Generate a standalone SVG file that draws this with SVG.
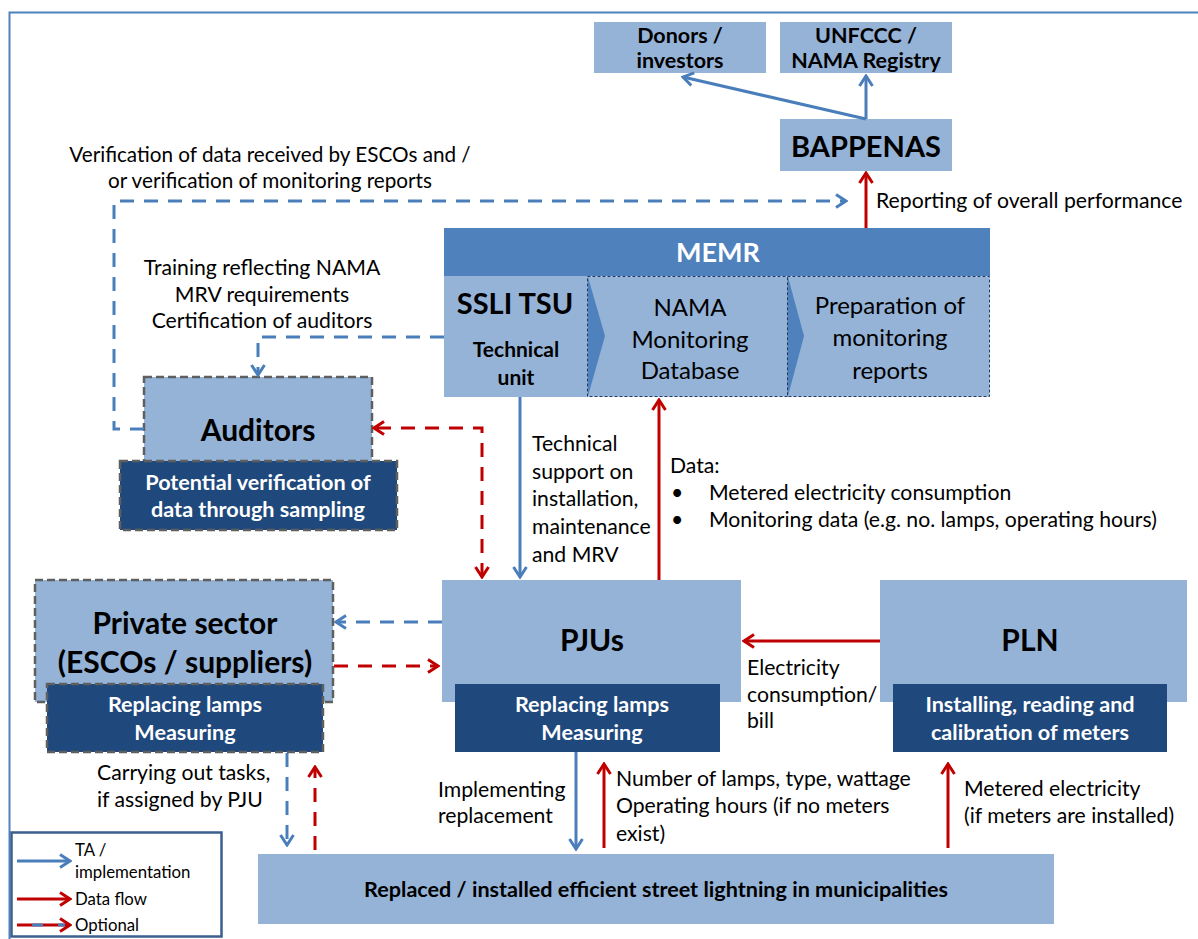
<svg xmlns="http://www.w3.org/2000/svg" width="1198" height="939" viewBox="0 0 1198 939">
  <defs>
    <style>
      text { font-family: "Lato", "Liberation Sans", sans-serif; fill: #000; }
      .lbl { font-size: 21.2px; }
      .ttl { font-size: 30px; font-weight: bold; text-anchor: middle; }
      .sub { font-size: 21.6px; font-weight: bold; text-anchor: middle; fill: #fff; }
      .top { font-size: 21.5px; font-weight: bold; text-anchor: middle; }
      .mid { text-anchor: middle; }
      .node { fill: #95b3d7; }
      .dark { fill: #1f497d; }
      .opt { stroke: #5f5f5f; stroke-width: 2.5; stroke-dasharray: 8 4; }
      .step { fill: #95b3d7; stroke: #1f3864; stroke-width: 1; stroke-dasharray: 3 2; }
      .blue { fill: none; stroke: #4a7ebb; stroke-width: 3; }
      .red { fill: none; stroke: #c00000; stroke-width: 3; }
      .dash { stroke-dasharray: 14 10; }
      .leg { font-size: 16.8px; }
    </style>
    <marker id="ab" viewBox="0 0 14 16" refX="12" refY="8" markerWidth="14" markerHeight="16" orient="auto-start-reverse" markerUnits="userSpaceOnUse">
      <path d="M2,1.5 L12,8 L2,14.5" fill="none" stroke="#4a7ebb" stroke-width="3"/>
    </marker>
    <marker id="ar" viewBox="0 0 14 16" refX="12" refY="8" markerWidth="14" markerHeight="16" orient="auto-start-reverse" markerUnits="userSpaceOnUse">
      <path d="M2,1.5 L12,8 L2,14.5" fill="none" stroke="#c00000" stroke-width="3"/>
    </marker>
  </defs>

  <!-- outer frame -->
  <rect x="9.5" y="12.5" width="1200" height="940" fill="#fff" stroke="#4f81bd" stroke-width="2"/>

  <!-- top-level bodies -->
  <g id="donors">
    <rect class="node" x="594" y="22" width="172" height="51"/>
    <text class="top" x="680" y="43">Donors /</text>
    <text class="top" x="680" y="68">investors</text>
  </g>
  <g id="unfccc">
    <rect class="node" x="780" y="22" width="172" height="51"/>
    <text class="top" x="866" y="43">UNFCCC /</text>
    <text class="top" x="866" y="68">NAMA Registry</text>
  </g>
  <g id="bappenas">
    <rect class="node" x="780" y="119" width="172" height="52"/>
    <text class="ttl" x="866" y="157" font-size="29" style="font-size:29px">BAPPENAS</text>
  </g>

  <!-- MEMR with its technical unit and process steps -->
  <g id="memr">
    <rect x="444" y="228" width="546" height="48" fill="#4f81bd"/>
    <text x="718" y="262" font-size="27" font-weight="bold" text-anchor="middle" style="fill:#fff">MEMR</text>
  </g>
  <g id="ssli-tsu">
    <rect class="node" x="444" y="276" width="144" height="121"/>
    <text class="ttl" x="515" y="314" style="font-size:29px">SSLI TSU</text>
    <text x="516" y="357" font-size="21" font-weight="bold" text-anchor="middle">Technical</text>
    <text x="516" y="385" font-size="21" font-weight="bold" text-anchor="middle">unit</text>
  </g>
  <g id="monitoring-db">
    <rect class="step" x="587.5" y="276.5" width="200" height="120"/>
    <polygon points="588,277 605,336 588,396" fill="#4f81bd"/>
    <text x="690" y="316" font-size="24" class="mid">NAMA</text>
    <text x="690" y="348" font-size="24" class="mid">Monitoring</text>
    <text x="690" y="379" font-size="24" class="mid">Database</text>
  </g>
  <g id="monitoring-reports">
    <rect class="step" x="787.5" y="276.5" width="202" height="120"/>
    <polygon points="788,277 804,336 788,396" fill="#4f81bd"/>
    <text x="890" y="314" font-size="24" class="mid">Preparation of</text>
    <text x="890" y="346" font-size="24" class="mid">monitoring</text>
    <text x="890" y="379" font-size="24" class="mid">reports</text>
  </g>

  <!-- auditors -->
  <g id="auditors">
    <rect class="node opt" x="144" y="377" width="228" height="87"/>
    <rect class="dark opt" x="120" y="461" width="277" height="69"/>
    <text class="ttl" x="258" y="441">Auditors</text>
    <text class="sub" x="258" y="490">Potential verification of</text>
    <text class="sub" x="258" y="517">data through sampling</text>
  </g>

  <!-- private sector -->
  <g id="private-sector">
    <rect class="node opt" x="35" y="580" width="298" height="122"/>
    <rect class="dark opt" x="47" y="684" width="276" height="68"/>
    <text class="ttl" x="185" y="634">Private sector</text>
    <text class="ttl" x="185" y="673">(ESCOs / suppliers)</text>
    <text class="sub" x="185" y="712">Replacing lamps</text>
    <text class="sub" x="185" y="740">Measuring</text>
  </g>

  <!-- PJUs -->
  <g id="pjus">
    <rect class="node" x="442" y="580" width="299" height="122"/>
    <rect class="dark" x="455" y="684" width="265" height="68"/>
    <text class="ttl" x="592" y="651">PJUs</text>
    <text class="sub" x="592" y="712">Replacing lamps</text>
    <text class="sub" x="592" y="740">Measuring</text>
  </g>

  <!-- PLN -->
  <g id="pln">
    <rect class="node" x="880" y="580" width="307" height="122"/>
    <rect class="dark" x="893" y="684" width="274" height="68"/>
    <text class="ttl" x="1030" y="651">PLN</text>
    <text class="sub" x="1030" y="712">Installing, reading and</text>
    <text class="sub" x="1030" y="740">calibration of meters</text>
  </g>

  <!-- street lighting -->
  <g id="street-lighting">
    <rect class="node" x="258" y="854" width="796" height="70"/>
    <text x="656" y="897" font-size="21.6" font-weight="bold" text-anchor="middle">Replaced / installed efficient street lightning in municipalities</text>
  </g>

  <!-- connectors -->
  <g id="connectors">
    <path class="blue" d="M866,119 V76" marker-end="url(#ab)"/>
    <path class="blue" d="M866,119 L683,77" marker-end="url(#ab)"/>
    <path class="red" d="M866,228 V173" marker-end="url(#ar)"/>
    <path class="blue dash" d="M144,429 H114 V201 H846" marker-end="url(#ab)"/>
    <path class="blue dash" d="M444,337 H258 V375" marker-end="url(#ab)"/>
    <path class="red dash" d="M482,577 V428 H374" marker-start="url(#ar)" marker-end="url(#ar)"/>
    <path class="blue" d="M520,397 V577" marker-end="url(#ab)"/>
    <path class="red" d="M659,580 V400" marker-end="url(#ar)"/>
    <path class="blue dash" d="M442,622 H336" marker-end="url(#ab)"/>
    <path class="red dash" d="M334,666 H438" marker-end="url(#ar)"/>
    <path class="red" d="M880,641 H744" marker-end="url(#ar)"/>
    <path class="blue" d="M576,752 V849" marker-end="url(#ab)"/>
    <path class="red" d="M604,848 V764" marker-end="url(#ar)"/>
    <path class="red" d="M948,848 V764" marker-end="url(#ar)"/>
    <path class="blue dash" d="M287,753 V845" marker-end="url(#ab)"/>
    <path class="red dash" d="M315,850 V767" marker-end="url(#ar)"/>
  </g>

  <!-- connector labels -->
  <g id="labels" class="lbl">
    <text x="270" y="162" class="mid" style="font-size:20.7px">Verification of data received by ESCOs and /</text>
    <text x="270" y="188" class="mid" style="font-size:20.7px">or verification of monitoring reports</text>
    <text x="876" y="208">Reporting of overall performance</text>
    <text x="262" y="275" class="mid">Training reflecting NAMA</text>
    <text x="262" y="302" class="mid">MRV requirements</text>
    <text x="262" y="328" class="mid">Certification of auditors</text>
    <text x="532" y="451">Technical</text>
    <text x="532" y="479">support on</text>
    <text x="532" y="506">installation,</text>
    <text x="532" y="534">maintenance</text>
    <text x="532" y="562">and MRV</text>
    <text x="670" y="473">Data:</text>
    <text x="671" y="500">•</text>
    <text x="709" y="500">Metered electricity consumption</text>
    <text x="671" y="527">•</text>
    <text x="709" y="527">Monitoring data (e.g. no. lamps, operating hours)</text>
    <text x="747" y="675">Electricity</text>
    <text x="747" y="702">consumption/</text>
    <text x="747" y="728">bill</text>
    <text x="97" y="780">Carrying out tasks,</text>
    <text x="97" y="807">if assigned by PJU</text>
    <text x="438" y="797">Implementing</text>
    <text x="438" y="823">replacement</text>
    <text x="616" y="786">Number of lamps, type, wattage</text>
    <text x="616" y="813">Operating hours (if no meters</text>
    <text x="616" y="841">exist)</text>
    <text x="964" y="796">Metered electricity</text>
    <text x="964" y="823">(if meters are installed)</text>
  </g>

  <!-- legend -->
  <g id="legend">
    <rect x="11.5" y="832.5" width="210" height="104" fill="#fff" stroke="#3a5f8f" stroke-width="2.5"/>
    <path class="blue" d="M17,861 H70" marker-end="url(#ab)"/>
    <path class="red" d="M17,899 H70" marker-end="url(#ar)"/>
    <path class="red" d="M17,925 H70" marker-end="url(#ar)"/>
    <path d="M32,925 H43 M58,925 H65" stroke="#4a7ebb" stroke-width="3"/>
    <text class="leg" x="75" y="856">TA /</text>
    <text class="leg" x="75" y="878">implementation</text>
    <text class="leg" x="75" y="905">Data flow</text>
    <text class="leg" x="75" y="931">Optional</text>
  </g>
</svg>
